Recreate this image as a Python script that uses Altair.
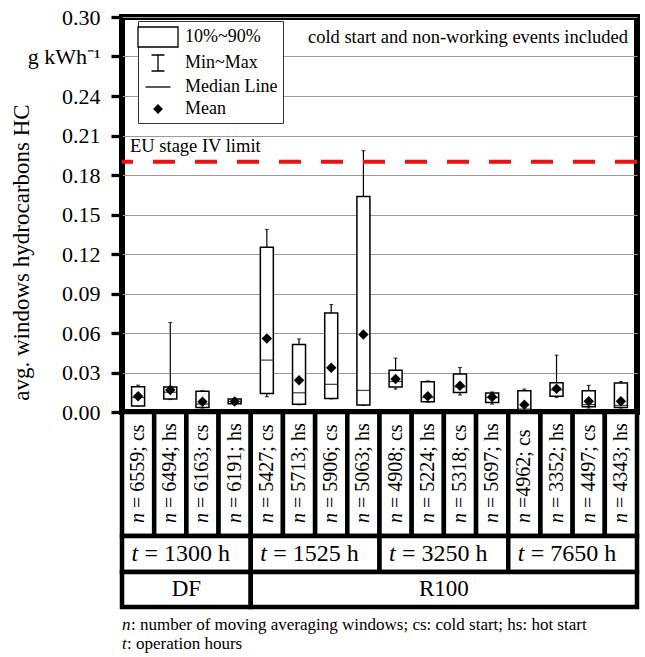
import altair as alt
import pandas as pd

FONT = "Liberation Serif"

# ---- data ----
CATS = ["6559; cs", "6494; hs", "6163; cs", "6191; hs",
        "5427; cs", "5713; hs", "5906; cs", "5063; hs",
        "4908; cs", "5224; hs", "5318; cs", "5697; hs",
        "4962; cs", "3352; hs", "4497; cs", "4343; hs"]
N_REST = ["= 6559; cs", "= 6494; hs", "= 6163; cs", "= 6191; hs",
          "= 5427; cs", "= 5713; hs", "= 5906; cs", "= 5063; hs",
          "= 4908; cs", "= 5224; hs", "= 5318; cs", "= 5697; hs",
          "=4962; cs", "= 3352; hs", "= 4497; cs", "= 4343; hs"]
P10 = [0.0045, 0.0098, 0.0035, 0.0062, 0.0141, 0.0058, 0.0103, 0.0053,
       0.0189, 0.0078, 0.0149, 0.0073, 0.0012, 0.0119, 0.0040, 0.0035]
P90 = [0.0192, 0.0190, 0.0157, 0.0098, 0.1252, 0.0512, 0.0752, 0.1636,
       0.0318, 0.0230, 0.0288, 0.0144, 0.0162, 0.0222, 0.0162, 0.0220]
VMIN = [0.0043, 0.0095, 0.0030, 0.0058, 0.0116, 0.0055, 0.0100, 0.0050,
        0.0174, 0.0075, 0.0129, 0.0060, 0.0008, 0.0110, 0.0030, 0.0030]
VMAX = [0.0204, 0.0680, 0.0162, 0.0103, 0.1386, 0.0555, 0.0816, 0.1985,
        0.0409, 0.0236, 0.0338, 0.0152, 0.0174, 0.0432, 0.0202, 0.0231]
MEDIAN = [0.0110, 0.0150, 0.0060, 0.0080, 0.0394, 0.0146, 0.0210, 0.0164,
          0.0232, 0.0110, 0.0190, 0.0110, 0.0022, 0.0167, 0.0056, 0.0050]
MEAN = [0.0119, 0.0167, 0.0078, 0.0080, 0.0558, 0.0242, 0.0336, 0.0588,
        0.0250, 0.0119, 0.0199, 0.0114, 0.0056, 0.0177, 0.0081, 0.0081]

HOURS = ["= 1300 h", "= 1525 h", "= 3250 h", "= 7650 h"]
GROUPS = ["DF", "R100"]
GROUP_SIZES = [4, 12]
Y_TICKS = [0.00, 0.03, 0.06, 0.09, 0.12, 0.15, 0.18, 0.21, 0.24, 0.27, 0.30]
EU_LIMIT = 0.19
LEG_ITEMS = ["10%~90%", "Min~Max", "Median Line", "Mean"]
LEG_PATHS = ["M-2,-1H2V1H-2Z",
             "M-0.65,-0.8H0.65M0,-0.8V0.8M-0.65,0.8H0.65",
             "M-1.25,0H1.25",
             "M0,-0.4L0.4,0L0,0.4L-0.4,0Z"]
LEG_FILLS = ["white", "transparent", "transparent", "black"]
NOTE = "cold start and non-working events included"
FOOT1 = ": number of moving averaging windows; cs: cold start; hs: hot start"
FOOT2 = ": operation hours"

W, H = 515, 395

box = pd.DataFrame({"cat": CATS, "p10": P10, "p90": P90, "vmin": VMIN,
                    "vmax": VMAX, "median": MEDIAN, "mean": MEAN})

xenc = alt.X("cat:N", sort=CATS, axis=None,
             scale=alt.Scale(paddingInner=0, paddingOuter=0))
yscale = alt.Scale(domain=[0, 0.30], nice=False)
hit = "abs(datum.value - 0.27) < 0.001"
yaxis = alt.Axis(values=Y_TICKS, format=".2f", labelOverlap=False,
                 labelExpr=f"{hit} ? 'g kWh⁻¹' : datum.label",
                 labelFontSize=22, labelFont=FONT, labelColor="black",
                 labelPadding=11,
                 title="avg. windows hydrocarbons HC", titleFont=FONT,
                 titleFontSize=23, titleFontWeight="normal", titleColor="black",
                 titleX=-94, titleY=235, titleBaseline="alphabetic",
                 grid=True, gridColor="#9a9a9a", gridWidth=1,
                 tickSize=11, tickWidth=3.3, tickColor="black",
                 domain=False)


def Y(field):
    return alt.Y(field, type="quantitative", scale=yscale, axis=yaxis)


base = alt.Chart(box).encode(x=xenc)
whisk = base.mark_rule(color="black", strokeWidth=1.2).encode(
    y=Y("vmin"), y2="vmax:Q")
capmax = base.mark_tick(color="black", size=4, thickness=1.2).encode(y=Y("vmax"))
capmin = base.mark_tick(color="black", size=4, thickness=1.2).encode(y=Y("vmin"))
boxes = base.mark_bar(size=13, fill="white", stroke="black", strokeWidth=1.5).encode(
    y=Y("p10"), y2="p90:Q")
med = base.mark_tick(color="black", size=13, thickness=1.3).encode(y=Y("median"))
mean = base.mark_point(shape="diamond", filled=True, color="black", size=110,
                       opacity=1).encode(y=Y("mean"))

lim = alt.Chart(pd.DataFrame({"limit": [EU_LIMIT], "label": ["EU stage IV limit"]}))
limline = lim.mark_rule(color="#ee1111", strokeWidth=4, strokeDash=[22, 20]).encode(
    y=Y("limit"))
limtext = lim.mark_text(align="left", baseline="bottom", dx=8, dy=-6, font=FONT,
                        fontSize=18.5, color="black").encode(
    x=alt.value(0), y=Y("limit"), text="label:N")

note = alt.Chart(pd.DataFrame({"t": [NOTE]})).mark_text(
    align="right", baseline="middle", font=FONT, fontSize=18.5, color="black").encode(
    x=alt.value(W - 9), y=alt.value(20), text="t:N")

legend = alt.Legend(title=None, orient="none", legendX=16, legendY=4,
                    strokeColor="#333", fillColor="white", padding=5,
                    labelFont=FONT, labelFontSize=18, labelColor="black",
                    symbolSize=400, symbolStrokeWidth=1.3, symbolOpacity=1,
                    symbolOffset=4, labelOffset=16, rowPadding=2)
leg = alt.Chart(pd.DataFrame({"item": LEG_ITEMS})).mark_point(
    opacity=0, strokeWidth=1.3).encode(
    shape=alt.Shape("item:N", scale=alt.Scale(domain=LEG_ITEMS, range=LEG_PATHS),
                    legend=legend, sort=LEG_ITEMS),
    fill=alt.Fill("item:N", scale=alt.Scale(domain=LEG_ITEMS, range=LEG_FILLS),
                  legend=legend, sort=LEG_ITEMS),
    stroke=alt.Stroke("item:N", scale=alt.Scale(domain=LEG_ITEMS,
                                                range=["black"] * len(LEG_ITEMS)),
                      legend=legend, sort=LEG_ITEMS))

main = alt.layer(whisk, capmax, capmin, boxes, med, mean, limline, limtext,
                 note, leg).properties(
    width=W, height=H, view=alt.ViewBackground(stroke="black", strokeWidth=6))

# ---- table below the plot ----
TH = 240
YMAX = 12.2
R1, R2, R3 = 6.3, 8.13, 9.91
F1, F2 = 10.85, 11.81
cells = []
for i in range(len(CATS)):
    cells.append({"x": i, "x2": i + 1, "y": 0, "y2": R1})
for j in range(len(HOURS)):
    cells.append({"x": 4 * j, "x2": 4 * j + 4, "y": R1, "y2": R2})
start = 0
for g, s in zip(GROUPS, GROUP_SIZES):
    cells.append({"x": start, "x2": start + s, "y": R2, "y2": R3})
    start += s
cells = pd.DataFrame(cells)

tx = alt.X("x:Q", scale=alt.Scale(domain=[0, 16], nice=False), axis=None)
ty = alt.Y("y:Q", scale=alt.Scale(domain=[0, YMAX], nice=False, reverse=True), axis=None)

rects = alt.Chart(cells).mark_rect(fill="white", stroke="black", strokeWidth=4.5).encode(
    x=tx, x2="x2:Q", y=ty, y2="y2:Q")

ntab = pd.DataFrame({"x": [i + 0.5 for i in range(len(CATS))], "y": [R1] * len(CATS),
                     "n": ["n"] * len(CATS), "rest": N_REST})
n_it = alt.Chart(ntab).mark_text(angle=270, align="left", baseline="middle", font=FONT,
                                 fontSize=20, fontStyle="italic", yOffset=-13,
                                 color="black").encode(x=tx, y=ty, text="n:N")
n_rest = alt.Chart(ntab).mark_text(angle=270, align="left", baseline="middle", font=FONT,
                                   fontSize=20, yOffset=-28, color="black").encode(
    x=tx, y=ty, text="rest:N")

ttab = pd.DataFrame({"x": [4 * j + 2 for j in range(len(HOURS))],
                     "y": [(R1 + R2) / 2] * len(HOURS), "t": ["t"] * len(HOURS),
                     "rest": HOURS})
t_it = alt.Chart(ttab).mark_text(align="left", baseline="middle", font=FONT, fontSize=24,
                                 fontStyle="italic", xOffset=-55, color="black").encode(
    x=tx, y=ty, text="t:N")
t_rest = alt.Chart(ttab).mark_text(align="left", baseline="middle", font=FONT, fontSize=24,
                                   xOffset=-42, color="black").encode(
    x=tx, y=ty, text="rest:N")

gx = []
start = 0
for s in GROUP_SIZES:
    gx.append(start + s / 2)
    start += s
gtab = pd.DataFrame({"x": gx, "y": [(R2 + R3) / 2] * len(GROUPS), "g": GROUPS})
g_txt = alt.Chart(gtab).mark_text(align="center", baseline="middle", font=FONT,
                                  fontSize=23, color="black").encode(
    x=tx, y=ty, text="g:N")

ftab = pd.DataFrame({"x": [0, 0], "y": [F1, F2], "v": ["n", "t"],
                     "rest": [FOOT1, FOOT2]})
f_it = alt.Chart(ftab).mark_text(align="left", baseline="middle", font=FONT, fontSize=17,
                                 fontStyle="italic", color="black").encode(
    x=tx, y=ty, text="v:N")
f_rest1 = alt.Chart(ftab.iloc[[0]]).mark_text(align="left", baseline="middle", font=FONT,
                                              fontSize=17, xOffset=9, color="black").encode(
    x=tx, y=ty, text="rest:N")
f_rest2 = alt.Chart(ftab.iloc[[1]]).mark_text(align="left", baseline="middle", font=FONT,
                                              fontSize=17, xOffset=5, color="black").encode(
    x=tx, y=ty, text="rest:N")

table = alt.layer(rects, n_it, n_rest, t_it, t_rest, g_txt, f_it, f_rest1,
                  f_rest2).properties(
    width=W, height=TH, view=alt.ViewBackground(stroke="transparent"))

chart = alt.vconcat(main, table, spacing=0, bounds="flush").properties(
    padding={"left": 6, "top": 3, "right": 0, "bottom": 0},
    background="white")

chart.save("out.html", embed_options={"renderer": "svg", "actions": False})
